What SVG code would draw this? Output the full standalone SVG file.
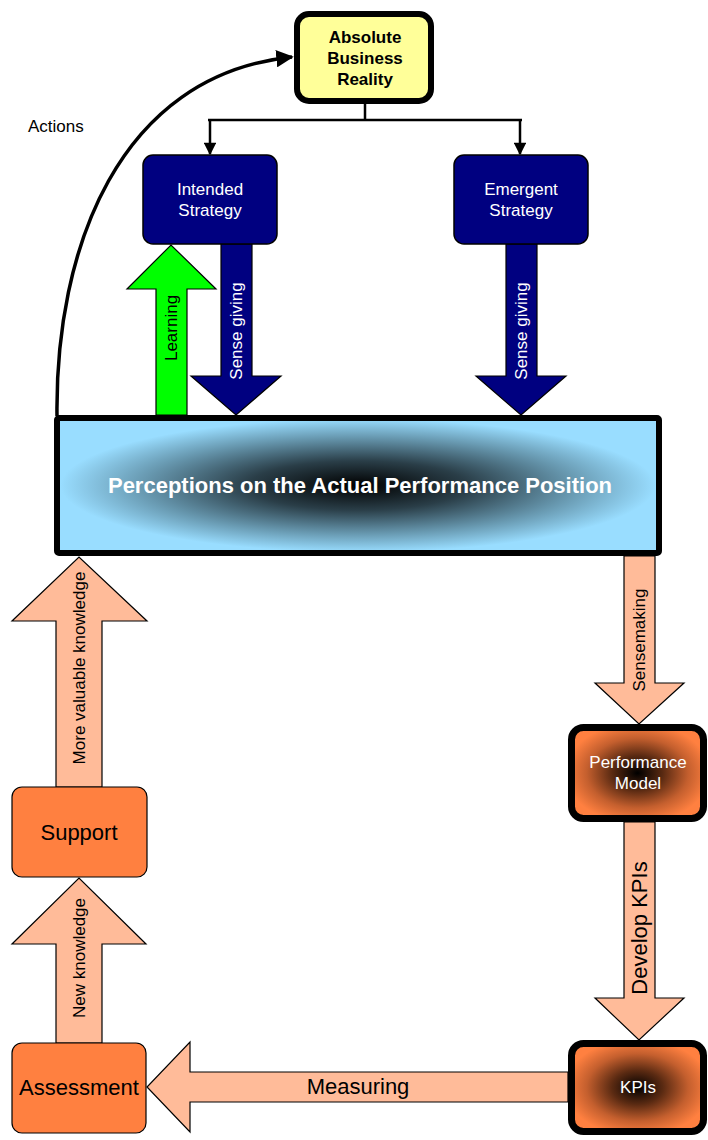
<svg xmlns="http://www.w3.org/2000/svg" width="708" height="1140" viewBox="0 0 708 1140">
<style>
text{font-family:"Liberation Sans",Arial,sans-serif}
.s{font-size:17px}
.b{font-size:22px}
.w{fill:#fff}
.k{fill:#000}
.peach{fill:#FFBB99;stroke:#000;stroke-width:1.2}
.navy{fill:#000080;stroke:#000;stroke-width:1.2}
.conn{fill:none;stroke:#000}
</style>
<defs>
<radialGradient id="gBlue" cx="50%" cy="50%" r="52%">
<stop offset="0" stop-color="#000000"/>
<stop offset="0.35" stop-color="#2a3e48"/>
<stop offset="0.7" stop-color="#6a9cb4"/>
<stop offset="0.95" stop-color="#99DDFF"/>
</radialGradient>
<radialGradient id="gOrange" cx="50%" cy="50%" r="55%">
<stop offset="0" stop-color="#000000"/>
<stop offset="0.35" stop-color="#5a2a12"/>
<stop offset="0.7" stop-color="#c45f2e"/>
<stop offset="1" stop-color="#FF8040"/>
</radialGradient>
<marker id="ah" viewBox="0 0 10 10" refX="9" refY="5" markerWidth="5" markerHeight="5" orient="auto" markerUnits="strokeWidth">
<path d="M0,0 L10,5 L0,10 z" fill="#000"/>
</marker>
<marker id="ah2" viewBox="0 0 10 10" refX="9" refY="5" markerWidth="5.5" markerHeight="5" orient="auto" markerUnits="strokeWidth">
<path d="M0,0 L10,5 L0,10 z" fill="#000"/>
</marker>
</defs>

<g id="connectors">
<path class="conn" stroke-width="3.5" d="M57,416 C55,250 118,75 292,57" marker-end="url(#ah)"/>
<path class="conn" stroke-width="2.5" d="M365,104 V120 M208,120 H522"/>
<path class="conn" stroke-width="2.5" d="M210,119 V154" marker-end="url(#ah2)"/>
<path class="conn" stroke-width="2.5" d="M520,119 V154" marker-end="url(#ah2)"/>
<g id="arrow-learning">
<polygon points="156,415 156,289 127,289 171,245 216,289 187,289 187,415" fill="#00FF00" stroke="#000" stroke-width="1.2"/>
<text class="s k" text-anchor="middle" dy="0.35em" transform="translate(171,328) rotate(-90)">Learning</text>
</g>
<g id="arrow-sensegiving-1">
<polygon class="navy" points="221,244 221,376 191,376 236,415 281,376 252,376 252,244"/>
<text class="s w" text-anchor="middle" dy="0.35em" transform="translate(236,331) rotate(-90)">Sense giving</text>
</g>
<g id="arrow-sensegiving-2">
<polygon class="navy" points="506,244 506,376 476,376 521,415 566,376 537,376 537,244"/>
<text class="s w" text-anchor="middle" dy="0.35em" transform="translate(521,331) rotate(-90)">Sense giving</text>
</g>
<g id="arrow-sensemaking">
<polygon class="peach" points="624,556 624,683 595,683 639,724 684,683 655,683 655,556"/>
<text class="s k" text-anchor="middle" dy="0.35em" transform="translate(639,640) rotate(-90)">Sensemaking</text>
</g>
<g id="arrow-develop">
<polygon class="peach" points="624,822 624,998 595,998 639,1040 684,998 655,998 655,822"/>
<text class="b k" text-anchor="middle" dy="0.35em" transform="translate(639,928) rotate(-90)">Develop KPIs</text>
</g>
<g id="arrow-measuring">
<polygon class="peach" points="568,1072 190,1072 190,1042 147,1087 190,1132 190,1102 568,1102"/>
<text class="b k" x="358" y="1094" text-anchor="middle">Measuring</text>
</g>
<g id="arrow-newknowledge">
<polygon class="peach" points="56,1043 56,944 12,944 79,878 146,944 102,944 102,1043"/>
<text class="s k" text-anchor="middle" dy="0.35em" transform="translate(79,958) rotate(-90)">New knowledge</text>
</g>
<g id="arrow-morevaluable">
<polygon class="peach" points="56,787 56,621 12,621 79,557 147,621 102,621 102,787"/>
<text class="s k" text-anchor="middle" dy="0.35em" transform="translate(79,668) rotate(-90)">More valuable knowledge</text>
</g>
<text class="s k" x="28" y="132">Actions</text>
</g>

<g id="node-abr">
<rect x="297" y="14" width="134" height="87" rx="12" fill="#FFFF99" stroke="#000" stroke-width="6"/>
<text class="k" font-size="17" font-weight="bold" text-anchor="middle" x="365" y="43">Absolute</text>
<text class="k" font-size="17" font-weight="bold" text-anchor="middle" x="365" y="64">Business</text>
<text class="k" font-size="17" font-weight="bold" text-anchor="middle" x="365" y="85">Reality</text>
</g>

<g id="node-intended">
<rect x="143" y="155" width="134" height="89" rx="10" fill="#000080" stroke="#000" stroke-width="1.5"/>
<text class="s w" text-anchor="middle" x="210" y="195">Intended</text>
<text class="s w" text-anchor="middle" x="210" y="216">Strategy</text>
</g>

<g id="node-emergent">
<rect x="454" y="155" width="134" height="89" rx="10" fill="#000080" stroke="#000" stroke-width="1.5"/>
<text class="s w" text-anchor="middle" x="521" y="195">Emergent</text>
<text class="s w" text-anchor="middle" x="521" y="216">Strategy</text>
</g>

<g id="node-perceptions">
<rect x="57" y="418" width="602" height="135" rx="2" fill="#99DDFF" stroke="none"/>
<rect x="57" y="418" width="602" height="135" rx="2" fill="url(#gBlue)" stroke="#000" stroke-width="6"/>
<text class="w" font-size="22" font-weight="bold" text-anchor="middle" x="360" y="493">Perceptions on the Actual Performance Position</text>
</g>

<g id="node-performance-model">
<rect x="571.5" y="727.5" width="132" height="91" rx="12" fill="url(#gOrange)" stroke="#000" stroke-width="7"/>
<text class="s w" text-anchor="middle" x="638" y="768">Performance</text>
<text class="s w" text-anchor="middle" x="638" y="789">Model</text>
</g>

<g id="node-kpis">
<rect x="571.5" y="1043.5" width="132" height="88" rx="12" fill="url(#gOrange)" stroke="#000" stroke-width="7"/>
<text class="s w" text-anchor="middle" x="638" y="1093">KPIs</text>
</g>

<g id="node-support">
<rect x="12" y="787" width="135" height="90" rx="10" fill="#FF8040" stroke="#000" stroke-width="1.2"/>
<text class="b k" text-anchor="middle" x="79" y="840">Support</text>
</g>

<g id="node-assessment">
<rect x="12" y="1043" width="134" height="90" rx="10" fill="#FF8040" stroke="#000" stroke-width="1.2"/>
<text class="b k" text-anchor="middle" x="79" y="1095">Assessment</text>
</g>
</svg>
